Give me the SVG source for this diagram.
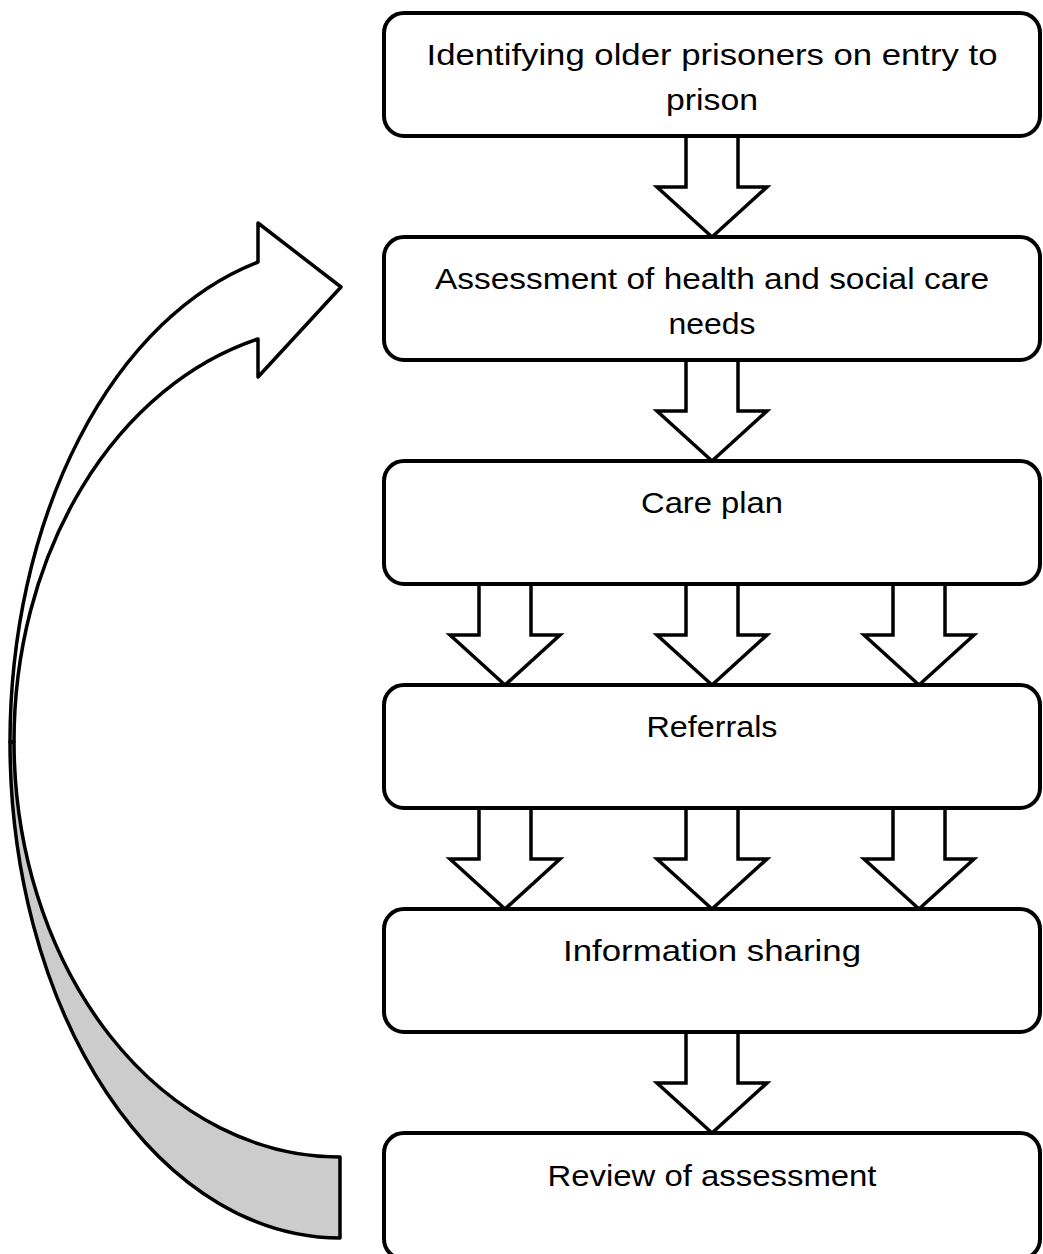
<svg xmlns="http://www.w3.org/2000/svg" width="1043" height="1254" viewBox="0 0 1043 1254">
<style>
.box{fill:#fff;stroke:#000;stroke-width:4}
.ba{fill:#fff;stroke:#000;stroke-width:3.5;stroke-linejoin:miter}
.t{font-family:"Liberation Sans",Arial,sans-serif;font-size:29px;fill:#000;text-anchor:middle}
.curve{stroke:#000;stroke-width:3.5;stroke-linejoin:round}
</style>
<rect width="1043" height="1254" fill="#fff"/>
<g id="connectors">
  <g id="loop-arrow">
    <path class="curve" fill="#cccccc" d="M10,742 A330,496 0 0 0 340,1238 L340,1157 A326,416 0 0 1 14,742 Z"/>
    <path class="curve" fill="#ffffff" d="M258,262 L258,223 L341,287 L258,377 L258,339 A326,416 0 0 0 14,742 L10,742 A330,496 0 0 1 258,262 Z"/>
  </g>
  <path class="ba" d="M686,136 V187 H657 L712,237 L767,187 H738 V136"/>
  <path class="ba" d="M686,360 V411 H657 L712,461 L767,411 H738 V360"/>
  <path class="ba" d="M479,584 V635 H450 L505,685 L560,635 H531 V584"/>
  <path class="ba" d="M686,584 V635 H657 L712,685 L767,635 H738 V584"/>
  <path class="ba" d="M893,584 V635 H864 L919,685 L974,635 H945 V584"/>
  <path class="ba" d="M479,808 V859 H450 L505,909 L560,859 H531 V808"/>
  <path class="ba" d="M686,808 V859 H657 L712,909 L767,859 H738 V808"/>
  <path class="ba" d="M893,808 V859 H864 L919,909 L974,859 H945 V808"/>
  <path class="ba" d="M686,1032 V1083 H657 L712,1133 L767,1083 H738 V1032"/>
</g>
<g id="n1">
  <rect class="box" x="384" y="13" width="656" height="123" rx="20"/>
  <text class="t" x="712" y="65" textLength="571" lengthAdjust="spacingAndGlyphs">Identifying older prisoners on entry to</text>
  <text class="t" x="712" y="110" textLength="92" lengthAdjust="spacingAndGlyphs">prison</text>
</g>
<g id="n2">
  <rect class="box" x="384" y="237" width="656" height="123" rx="20"/>
  <text class="t" x="712" y="289" textLength="554" lengthAdjust="spacingAndGlyphs">Assessment of health and social care</text>
  <text class="t" x="712" y="334" textLength="87" lengthAdjust="spacingAndGlyphs">needs</text>
</g>
<g id="n3">
  <rect class="box" x="384" y="461" width="656" height="123" rx="20"/>
  <text class="t" x="712" y="513" textLength="142" lengthAdjust="spacingAndGlyphs">Care plan</text>
</g>
<g id="n4">
  <rect class="box" x="384" y="685" width="656" height="123" rx="20"/>
  <text class="t" x="712" y="737" textLength="131" lengthAdjust="spacingAndGlyphs">Referrals</text>
</g>
<g id="n5">
  <rect class="box" x="384" y="909" width="656" height="123" rx="20"/>
  <text class="t" x="712" y="961" textLength="298" lengthAdjust="spacingAndGlyphs">Information sharing</text>
</g>
<g id="n6">
  <rect class="box" x="384" y="1133" width="656" height="126" rx="20"/>
  <text class="t" x="712" y="1186" textLength="329" lengthAdjust="spacingAndGlyphs">Review of assessment</text>
</g>
</svg>
